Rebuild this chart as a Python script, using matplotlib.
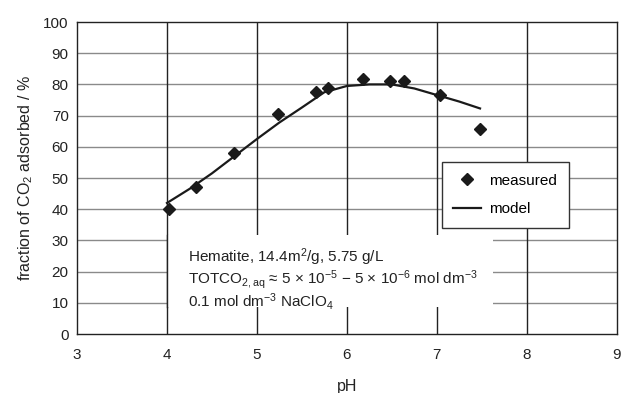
import matplotlib.pyplot as plt
from matplotlib.patches import Rectangle

plt.rcParams['font.family'] = ['Liberation Sans', 'DejaVu Sans']
plt.rcParams['mathtext.fontset'] = 'custom'
plt.rcParams['mathtext.rm'] = 'Liberation Sans'
plt.rcParams['mathtext.it'] = 'Liberation Sans:italic'
plt.rcParams['font.size'] = 11

# measured adsorption
ph_meas = [4.02, 4.32, 4.75, 5.23, 5.66, 5.79, 6.18, 6.48, 6.63, 7.03, 7.48]
frac_meas = [40.0, 47.0, 58.0, 70.5, 77.5, 78.7, 81.6, 81.2, 81.2, 76.6, 65.7]

# model curve
ph_model = [4.0, 4.25, 4.5, 4.75, 5.0, 5.25, 5.5, 5.75, 6.0, 6.25, 6.5, 6.75, 7.0, 7.25, 7.48]
frac_model = [42.0, 46.5, 51.5, 57.0, 62.5, 67.8, 72.6, 77.5, 79.5, 80.0, 80.0, 78.7, 76.6, 74.5, 72.3]

x_ticks = [3, 4, 5, 6, 7, 8, 9]
y_ticks = list(range(0, 101, 10))

info_lines = [
    "Hematite, 14.4m$^{2}$/g, 5.75 g/L",
    "TOTCO$_{2,\\mathrm{aq}}$ \u2248 5 \u00d7 10$^{-5}$ \u2212 5 \u00d7 10$^{-6}$ mol dm$^{-3}$",
    "0.1 mol dm$^{-3}$ NaClO$_{4}$",
]
info_y = [25.6, 18.8, 11.3]

fig = plt.figure(figsize=(6.23, 3.93), dpi=100)
ax = fig.add_axes([0.1236, 0.150, 0.8664, 0.794])

ax.set_xlim(3, 9)
ax.set_ylim(0, 100)
ax.set_xticks(x_ticks)
ax.set_yticks(y_ticks)
ax.tick_params(length=0, labelsize=11, colors='#222222')
ax.tick_params(axis='x', pad=10)
ax.tick_params(axis='y', pad=6)

for y in y_ticks[1:-1]:
    ax.axhline(y, color='#8a8a8a', lw=1.0, zorder=1)
for x in x_ticks[1:-1]:
    ax.axvline(x, color='#222222', lw=1.0, zorder=1)
for s in ax.spines.values():
    s.set_color('#222222')
    s.set_linewidth(1.0)

# white box under the annotation text
ax.add_patch(Rectangle((4.0, 8.6), 3.62, 23.1, facecolor='white',
                       edgecolor='none', zorder=2))
ax.axvline(4, ymin=0.086, ymax=0.317, color='#222222', lw=1.0, zorder=2.5)

ax.plot(ph_model, frac_model, color='#1a1a1a', lw=1.6, zorder=3, label='model')
ax.plot(ph_meas, frac_meas, ls='none', marker='D', ms=6.5, color='#1a1a1a',
        zorder=4, label='measured')

for line, y in zip(info_lines, info_y):
    ax.text(4.23, y, line, fontsize=11, color='#222222', va='center_baseline',
            ha='left', zorder=5)

handles, labels = ax.get_legend_handles_labels()
leg = ax.legend(handles[::-1], labels[::-1], loc='upper left',
                bbox_to_anchor=(7.056, 55.1), bbox_transform=ax.transData,
                numpoints=1, fancybox=False, framealpha=1, edgecolor='#333333',
                fontsize=11, handlelength=1.8, handletextpad=0.55, borderpad=0.75,
                labelspacing=0.95, borderaxespad=0)
leg.get_frame().set_linewidth(1.0)
leg.set_zorder(6)

ax.set_xlabel('pH', fontsize=11.5, color='#222222', labelpad=12)
ax.set_ylabel('fraction of CO$_{2}$ adsorbed / %', fontsize=11.5, color='#222222', labelpad=6)

fig.savefig('out.png', dpi=100)
